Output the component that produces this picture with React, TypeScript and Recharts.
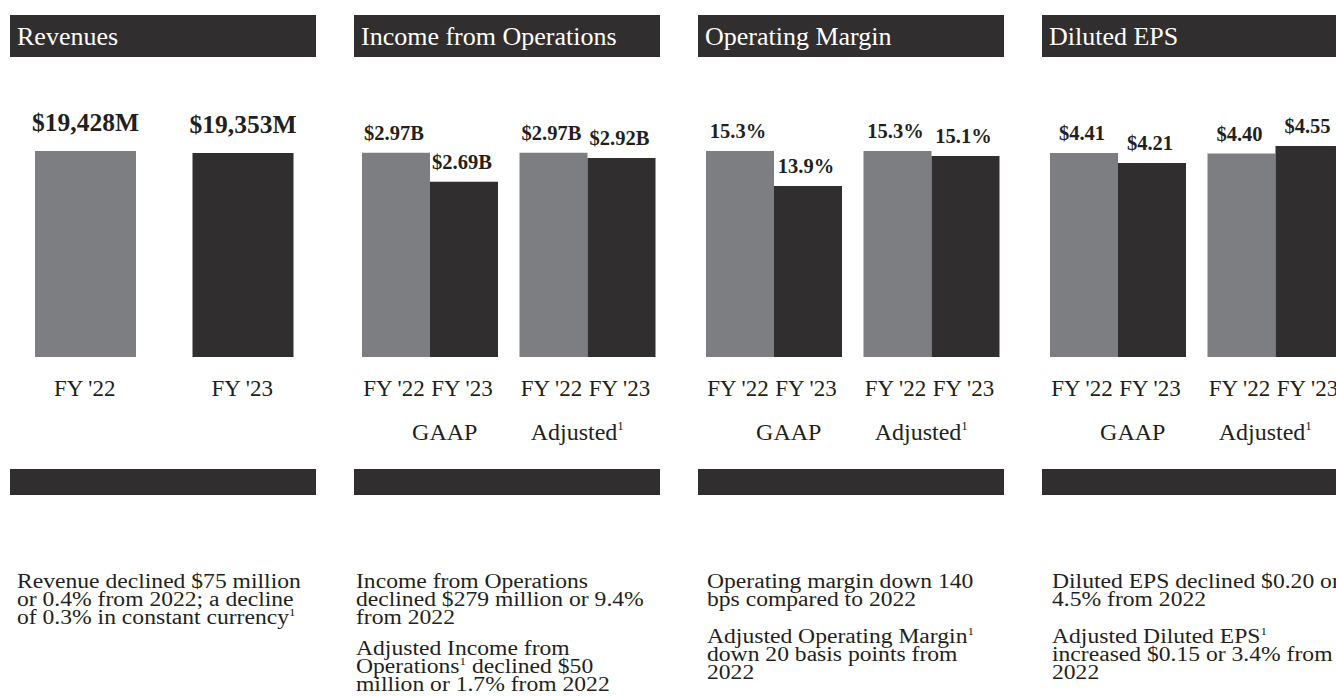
import { BarChart, Bar, XAxis, YAxis, Cell, LabelList } from 'recharts'

// panel titles
const panelTitles = ['Revenues', 'Income from Operations', 'Operating Margin', 'Diluted EPS']

// revenues ($M)
const revenueYears = ["FY '22", "FY '23"]
const revenueValues = [19428, 19353]

// grouped panels: GAAP vs Adjusted, FY '22 vs FY '23
const groups = ['GAAP', 'Adjusted']
const yearLabels = ["FY '22", "FY '23"]
const incomeFY22 = [2.97, 2.97] // $B
const incomeFY23 = [2.69, 2.92]
const marginFY22 = [15.3, 15.3] // %
const marginFY23 = [13.9, 15.1]
const epsFY22 = [4.41, 4.4] // $
const epsFY23 = [4.21, 4.55]

const GRAY = '#7d7e82'
const DARK = '#302e2f'
const INK = '#231f20'
const SERIF = "'Liberation Serif', 'Times New Roman', serif"

const PANEL_X = [10, 354, 698, 1042]
const PANEL_W = 306
const CHART_TOP = 100
const PLOT_H = 257

const noteStyle: React.CSSProperties = {
  position: 'absolute',
  top: 572,
  fontFamily: SERIF,
  fontSize: 20,
  lineHeight: '18px',
  color: INK,
  whiteSpace: 'nowrap',
  transform: 'scaleX(1.18)',
  transformOrigin: '0 0',
}
const sup = <sup style={{ fontSize: 11, lineHeight: 0 }}>1</sup>

function labelBox(props: any) {
  const vb = props.viewBox ?? props
  return { x: vb.x ?? props.x, y: vb.y ?? props.y, width: vb.width ?? props.width, height: vb.height ?? props.height }
}

function valueLabel(fmt: (v: number) => string, size: number, gap: number, dx: number) {
  return (props: any) => {
    const { x, y, width } = labelBox(props)
    return (
      <text x={x + width / 2 + dx} y={y - gap} textAnchor="middle" fontFamily={SERIF} fontWeight="bold" fontSize={size} fill={INK}>
        {fmt(Number(props.value))}
      </text>
    )
  }
}

function yearLabel(text: string) {
  return (props: any) => {
    const { x, y, width, height } = labelBox(props)
    return (
      <text x={x + width / 2 - 2} y={y + height + 39} textAnchor="middle" fontFamily={SERIF} fontSize={23} fill={INK}>
        {text}
      </text>
    )
  }
}

function groupTick(props: any) {
  const { x, y, payload } = props
  const v = payload.value as string
  const dx = v === 'GAAP' ? 15 : -10
  return (
    <text x={x + dx} y={y + 83} textAnchor="middle" fontFamily={SERIF} fontSize={24} fill={INK}>
      {v}
      {v === 'Adjusted' && (
        <tspan dy={-10} fontSize={13}>
          1
        </tspan>
      )}
    </text>
  )
}

function Header({ left, title }: { left: number; title: string }) {
  return (
    <>
      <div style={{ position: 'absolute', left, top: 15, width: PANEL_W, height: 42, background: DARK }}>
        <span
          style={{
            position: 'absolute',
            left: 7,
            top: 7,
            fontFamily: SERIF,
            fontSize: 26,
            lineHeight: '30px',
            color: '#fff',
            whiteSpace: 'nowrap',
          }}
        >
          {title}
        </span>
      </div>
      <div style={{ position: 'absolute', left, top: 469, width: PANEL_W, height: 26, background: DARK }} />
    </>
  )
}

function RevenueChart({ left }: { left: number }) {
  const data = revenueYears.map((year, i) => ({ year, value: revenueValues[i] }))
  return (
    <div style={{ position: 'absolute', left: left - 3, top: CHART_TOP }}>
      <BarChart width={315} height={PLOT_H + 110} data={data} margin={{ top: 0, right: 0, bottom: 0, left: 0 }}>
        <XAxis
          dataKey="year"
          axisLine={false}
          tickLine={false}
          tickSize={0}
          tickMargin={0}
          height={110}
          interval={0}
          tick={(p: any) => (
            <text x={p.x - 1} y={p.y + 39} textAnchor="middle" fontFamily={SERIF} fontSize={23} fill={INK}>
              {p.payload.value}
            </text>
          )}
        />
        <YAxis hide type="number" domain={[11703, 21340]} allowDataOverflow />
        <Bar dataKey="value" barSize={101} isAnimationActive={false}>
          {data.map((d, i) => (
            <Cell key={d.year} fill={i === 0 ? GRAY : DARK} />
          ))}
          <LabelList dataKey="value" content={valueLabel((v) => `$${v.toLocaleString('en-US')}M`, 25.5, 19.5, 0)} />
        </Bar>
      </BarChart>
    </div>
  )
}

function GroupedChart({
  left,
  fy22,
  fy23,
  domain,
  fmt,
}: {
  left: number
  fy22: number[]
  fy23: number[]
  domain: [number, number]
  fmt: (v: number) => string
}) {
  const data = groups.map((group, i) => ({ group, fy22: fy22[i], fy23: fy23[i] }))
  return (
    <div style={{ position: 'absolute', left: left - 3, top: CHART_TOP }}>
      <BarChart
        width={315}
        height={PLOT_H + 110}
        data={data}
        margin={{ top: 0, right: 0, bottom: 0, left: 0 }}
        barGap={0}
      >
        <XAxis
          dataKey="group"
          axisLine={false}
          tickLine={false}
          tickSize={0}
          tickMargin={0}
          height={110}
          interval={0}
          tick={groupTick}
        />
        <YAxis hide type="number" domain={domain} allowDataOverflow />
        <Bar dataKey="fy22" fill={GRAY} barSize={68} isAnimationActive={false}>
          <LabelList dataKey="fy22" content={valueLabel(fmt, 20.5, 13, -2)} />
          <LabelList dataKey="fy22" content={yearLabel(yearLabels[0])} />
        </Bar>
        <Bar dataKey="fy23" fill={DARK} barSize={68} isAnimationActive={false}>
          <LabelList dataKey="fy23" content={valueLabel(fmt, 20.5, 13, -2)} />
          <LabelList dataKey="fy23" content={yearLabel(yearLabels[1])} />
        </Bar>
      </BarChart>
    </div>
  )
}

export default function App() {
  return (
    <div
      style={{
        position: 'absolute',
        left: 0,
        top: 0,
        width: 1336,
        height: 696,
        overflow: 'hidden',
        background: '#fff',
      }}
    >
      {panelTitles.map((t, i) => (
        <Header key={t} left={PANEL_X[i]} title={t} />
      ))}

      <RevenueChart left={PANEL_X[0]} />
      <GroupedChart left={PANEL_X[1]} fy22={incomeFY22} fy23={incomeFY23} domain={[1.0, 3.48]} fmt={(v) => `$${v.toFixed(2)}B`} />
      <GroupedChart left={PANEL_X[2]} fy22={marginFY22} fy23={marginFY23} domain={[7.06, 17.34]} fmt={(v) => `${v.toFixed(1)}%`} />
      <GroupedChart left={PANEL_X[3]} fy22={epsFY22} fy23={epsFY23} domain={[0.33, 5.47]} fmt={(v) => `$${v.toFixed(2)}`} />

      <div style={{ ...noteStyle, left: 17 }}>
        Revenue declined $75 million
        <br />
        or 0.4% from 2022; a decline
        <br />
        of 0.3% in constant currency{sup}
      </div>
      <div style={{ ...noteStyle, left: 356 }}>
        <div>
          Income from Operations
          <br />
          declined $279 million or 9.4%
          <br />
          from 2022
        </div>
        <div style={{ marginTop: 13 }}>
          Adjusted Income from
          <br />
          Operations{sup} declined $50
          <br />
          million or 1.7% from 2022
        </div>
      </div>
      <div style={{ ...noteStyle, left: 707 }}>
        <div>
          Operating margin down 140
          <br />
          bps compared to 2022
        </div>
        <div style={{ marginTop: 19 }}>
          Adjusted Operating Margin{sup}
          <br />
          down 20 basis points from
          <br />
          2022
        </div>
      </div>
      <div style={{ ...noteStyle, left: 1052 }}>
        <div>
          Diluted EPS declined $0.20 or
          <br />
          4.5% from 2022
        </div>
        <div style={{ marginTop: 19 }}>
          Adjusted Diluted EPS{sup}
          <br />
          increased $0.15 or 3.4% from
          <br />
          2022
        </div>
      </div>
    </div>
  )
}
